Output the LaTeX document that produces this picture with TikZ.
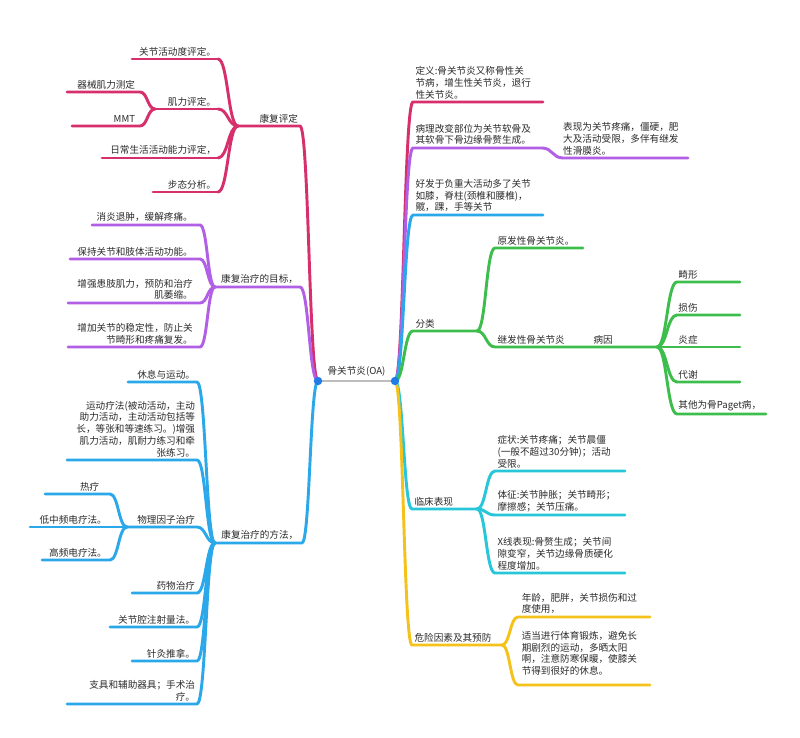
\documentclass[tikz,border=0pt]{standalone}
\usepackage{fontspec}
\newfontfamily\cjk{Noto Sans CJK SC}
\usetikzlibrary{positioning,calc}
\definecolor{ink}{HTML}{2B2B2B}
\definecolor{crim}{HTML}{D62F6B}
\definecolor{lila}{HTML}{B160E6}
\definecolor{sky}{HTML}{2AA8EA}
\definecolor{grn}{HTML}{3DBE4C}
\definecolor{teal}{HTML}{27C6D9}
\definecolor{gold}{HTML}{F5C21B}
\definecolor{hub}{HTML}{1F7CE6}
\definecolor{stem}{HTML}{BDBDBD}

\begin{document}
\begin{tikzpicture}[
    x=0.03cm, y=-0.03cm,
    txt/.style={inner sep=0pt, font=\cjk\fontsize{8.2}{10}\selectfont, text=ink},
    tl/.style={txt, align=right},
    tr/.style={txt, align=left},
    br/.style={line width=2.5pt, line cap=round, line join=round},
    link/.style={to path={.. controls ($(\tikztostart)!.5!(\tikztostart -| \tikztotarget)$)
        and ($(\tikztostart |- \tikztotarget)!.5!(\tikztotarget)$) .. (\tikztotarget)}}
]
    \fill[white] (0,0) rectangle (800,738);
    \useasboundingbox (0,0) rectangle (800,738);

    % Root
    \coordinate (rootL) at (318,381);
    \coordinate (rootR) at (395,381);

    % Left: 康复评定
    \coordinate (kp) at (300,126);    \coordinate (kpJ) at (238,126);
    \coordinate (kp1) at (218,59);    \coordinate (kp1e) at (132,59);
    \coordinate (kp2) at (218,109);   \coordinate (kp2J) at (155,109);
    \coordinate (kp21) at (140,92);   \coordinate (kp21e) at (67,92);
    \coordinate (kp22) at (140,126);  \coordinate (kp22e) at (72,126);
    \coordinate (kp3) at (218,158);   \coordinate (kp3e) at (102,158);
    \coordinate (kp4) at (218,192);   \coordinate (kp4e) at (153,192);

    % Left: 康复治疗的目标
    \coordinate (mb) at (300,287);    \coordinate (mbJ) at (215,287);
    \coordinate (mb1) at (200,225);   \coordinate (mb1e) at (92,225);
    \coordinate (mb2) at (200,259);   \coordinate (mb2e) at (70,259);
    \coordinate (mb3) at (200,303);   \coordinate (mb3e) at (68,303);
    \coordinate (mb4) at (200,347);   \coordinate (mb4e) at (68,347);

    % Left: 康复治疗的方法
    \coordinate (ff) at (302,543);    \coordinate (ffJ) at (215,543);
    \coordinate (ff1) at (197,382);   \coordinate (ff1e) at (128,382);
    \coordinate (ff2) at (197,460);   \coordinate (ff2e) at (67,460);
    \coordinate (ff3) at (197,527);   \coordinate (ff3J) at (127,527);
    \coordinate (ff31) at (110,494);  \coordinate (ff31e) at (45,494);
    \coordinate (ff32) at (110,527);  \coordinate (ff32e) at (30,527);
    \coordinate (ff33) at (110,560);  \coordinate (ff33e) at (42,560);
    \coordinate (ff4) at (197,593);   \coordinate (ff4e) at (132,593);
    \coordinate (ff5) at (197,627);   \coordinate (ff5e) at (110,627);
    \coordinate (ff6) at (197,661);   \coordinate (ff6e) at (132,661);
    \coordinate (ff7) at (197,704);   \coordinate (ff7e) at (67,704);

    % Right
    \coordinate (dy) at (413,102);    \coordinate (dye) at (543,102);
    \coordinate (bl) at (413,148);    \coordinate (blJ) at (542,148);
    \coordinate (bl1) at (563,158);   \coordinate (bl1e) at (688,158);
    \coordinate (hf) at (413,215);    \coordinate (hfe) at (543,215);
    \coordinate (fl) at (413,331);    \coordinate (flJ) at (477,331);
    \coordinate (fl1) at (495,248);   \coordinate (fl1e) at (583,248);
    \coordinate (fl2) at (495,347);   \coordinate (by) at (591,347);
    \coordinate (byJ) at (657,347);
    \coordinate (by1) at (677,282);   \coordinate (by1e) at (740,282);
    \coordinate (by2) at (677,315);   \coordinate (by2e) at (740,315);
    \coordinate (by3) at (677,347);   \coordinate (by3e) at (740,347);
    \coordinate (by4) at (677,382);   \coordinate (by4e) at (740,382);
    \coordinate (by5) at (677,414);   \coordinate (by5e) at (766,414);
    \coordinate (lc) at (412,509);    \coordinate (lcJ) at (477,509);
    \coordinate (lc1) at (495,471);   \coordinate (lc1e) at (625,471);
    \coordinate (lc2) at (495,515);   \coordinate (lc2e) at (625,515);
    \coordinate (lc3) at (495,573);   \coordinate (lc3e) at (625,573);
    \coordinate (wx) at (412,645);    \coordinate (wxJ) at (502,645);
    \coordinate (wx1) at (518,617);   \coordinate (wx1e) at (650,617);
    \coordinate (wx2) at (518,685);   \coordinate (wx2e) at (650,685);

    % Branches, left
    \draw[br, crim] (rootL) to[link] (kp) -- (kpJ);
    \foreach \c in {kp1,kp2,kp3,kp4} \draw[br, crim] (kpJ) to[link] (\c);
    \foreach \c in {kp1,kp3,kp4} \draw[br, crim] (\c) -- (\c e);
    \draw[br, crim] (kp2) -- (kp2J);
    \foreach \c in {kp21,kp22} \draw[br, crim] (kp2J) to[link] (\c) -- (\c e);

    \draw[br, lila] (rootL) to[link] (mb) -- (mbJ);
    \foreach \c in {mb1,mb2,mb3,mb4} \draw[br, lila] (mbJ) to[link] (\c) -- (\c e);

    \draw[br, sky] (rootL) to[link] (ff) -- (ffJ);
    \foreach \c in {ff1,ff2,ff4,ff5,ff6,ff7} \draw[br, sky] (ffJ) to[link] (\c) -- (\c e);
    \draw[br, sky] (ffJ) to[link] (ff3) -- (ff3J);
    \foreach \c in {ff31,ff32,ff33} \draw[br, sky] (ff3J) to[link] (\c) -- (\c e);

    % Branches, right
    \draw[br, crim] (rootR) to[link] (dy) -- (dye);
    \draw[br, lila] (rootR) to[link] (bl) -- (blJ) to[link] (bl1) -- (bl1e);
    \draw[br, sky] (rootR) to[link] (hf) -- (hfe);
    \draw[br, grn] (rootR) to[link] (fl) -- (flJ);
    \draw[br, grn] (flJ) to[link] (fl1) -- (fl1e);
    \draw[br, grn] (flJ) to[link] (fl2) -- (by) -- (byJ);
    \foreach \c in {by1,by2,by3,by4,by5} \draw[br, grn] (byJ) to[link] (\c) -- (\c e);
    \draw[br, teal] (rootR) to[link] (lc) -- (lcJ);
    \foreach \c in {lc1,lc2,lc3} \draw[br, teal] (lcJ) to[link] (\c) -- (\c e);
    \draw[br, gold] (rootR) to[link] (wx) -- (wxJ);
    \foreach \c in {wx1,wx2} \draw[br, gold] (wxJ) to[link] (\c) -- (\c e);

    % Root stem
    \draw[line width=2.5pt, stem] (rootL) -- (rootR);
    \fill[hub] (rootL) circle (3.6pt);
    \fill[hub] (rootR) circle (3.6pt);
    \node[txt, above=4pt] (root) at ($(rootL)!.5!(rootR)$) {骨关节炎(OA)};

    % Labels, left
    \node[tl, above left=2.5pt and 1.5pt of kp] (kpT) {康复评定};
    \node[tl, above left=2.5pt and 1.5pt of kp1] (kp1T) {关节活动度评定。};
    \node[tl, above left=2.5pt and 1.5pt of kp2] (kp2T) {肌力评定。};
    \node[tl, above left=2.5pt and 4pt of kp21] (kp21T) {器械肌力测定};
    \node[tl, above left=2.5pt and 4pt of kp22] (kp22T) {MMT};
    \node[tl, above left=2.5pt and 1.5pt of kp3] (kp3T) {日常生活活动能力评定，};
    \node[tl, above left=2.5pt and 1.5pt of kp4] (kp4T) {步态分析。};

    \node[tl, above left=2.5pt and 1.5pt of mb] (mbT) {康复治疗的目标，};
    \node[tl, above left=2.5pt and 6pt of mb1] (mb1T) {消炎退肿，缓解疼痛。};
    \node[tl, above left=2.5pt and 6pt of mb2] (mb2T) {保持关节和肢体活动功能。};
    \node[tl, above left=2.5pt and 6pt of mb3] (mb3T) {增强患肢肌力，预防和治疗\\肌萎缩。};
    \node[tl, above left=2.5pt and 6pt of mb4] (mb4T) {增加关节的稳定性，防止关\\节畸形和疼痛复发。};

    \node[tl, above left=2.5pt and 3pt of ff] (ffT) {康复治疗的方法，};
    \node[tl, above left=2.5pt and 1.5pt of ff1] (ff1T) {休息与运动。};
    \node[tl, above left=2.5pt and 1.5pt of ff2] (ff2T) {运动疗法(被动活动，主动\\助力活动，主动活动包括等\\长，等张和等速练习。)增强\\肌力活动，肌耐力练习和牵\\张练习。};
    \node[tl, above left=2.5pt and 1.5pt of ff3] (ff3T) {物理因子治疗};
    \node[tl, above left=2.5pt and 9pt of ff31] (ff31T) {热疗};
    \node[tl, above left=2.5pt and 2.5pt of ff32] (ff32T) {低中频电疗法。};
    \node[tl, above left=2.5pt and 2.5pt of ff33] (ff33T) {高频电疗法。};
    \node[tl, above left=2.5pt and 1.5pt of ff4] (ff4T) {药物治疗};
    \node[tl, above left=2.5pt and 1.5pt of ff5] (ff5T) {关节腔注射量法。};
    \node[tl, above left=2.5pt and 1.5pt of ff6] (ff6T) {针灸推拿。};
    \node[tl, above left=2.5pt and 1.5pt of ff7] (ff7T) {支具和辅助器具；手术治\\疗。};

    % Labels, right
    \node[tr, above right=2.5pt and 2pt of dy] (dyT) {定义:骨关节炎又称骨性关\\节病，增生性关节炎，退行\\性关节炎。};
    \node[tr, above right=2.5pt and 2pt of bl] (blT) {病理改变部位为关节软骨及\\其软骨下骨边缘骨赘生成。};
    \node[tr, above right=2.5pt and 0pt of bl1] (bl1T) {表现为关节疼痛，僵硬，肥\\大及活动受限，多伴有继发\\性滑膜炎。};
    \node[tr, above right=2.5pt and 2pt of hf] (hfT) {好发于负重大活动多了关节\\如膝，脊柱(颈椎和腰椎)，\\髋，踝，手等关节};
    \node[tr, above right=2.5pt and 2pt of fl] (flT) {分类};
    \node[tr, above right=2.5pt and 2pt of fl1] (fl1T) {原发性骨关节炎。};
    \node[tr, above right=2.5pt and 2pt of fl2] (fl2T) {继发性骨关节炎};
    \node[tr, above right=2.5pt and 2pt of by] (byT) {病因};
    \node[tr, above right=2.5pt and 1pt of by1] (by1T) {畸形};
    \node[tr, above right=2.5pt and 1pt of by2] (by2T) {损伤};
    \node[tr, above right=2.5pt and 1pt of by3] (by3T) {炎症};
    \node[tr, above right=2.5pt and 1pt of by4] (by4T) {代谢};
    \node[tr, above right=2.5pt and 1pt of by5] (by5T) {其他为骨Paget病，};
    \node[tr, above right=2.5pt and 2pt of lc] (lcT) {临床表现};
    \node[tr, above right=2.5pt and 2pt of lc1] (lc1T) {症状:关节疼痛；关节晨僵\\(一般不超过30分钟)；活动\\受限。};
    \node[tr, above right=2.5pt and 2pt of lc2] (lc2T) {体征:关节肿胀；关节畸形；\\摩擦感；关节压痛。};
    \node[tr, above right=2.5pt and 2pt of lc3] (lc3T) {X线表现:骨赘生成；关节间\\隙变窄，关节边缘骨质硬化\\程度增加。};
    \node[tr, above right=2.5pt and 2pt of wx] (wxT) {危险因素及其预防};
    \node[tr, above right=2.5pt and 3pt of wx1] (wx1T) {年龄，肥胖，关节损伤和过\\度使用，};
    \node[tr, above right=8pt and 3pt of wx2] (wx2T) {适当进行体育锻炼，避免长\\期剧烈的运动，多晒太阳\\啊，注意防寒保暖，使膝关\\节得到很好的休息。};
\end{tikzpicture}
\end{document}
